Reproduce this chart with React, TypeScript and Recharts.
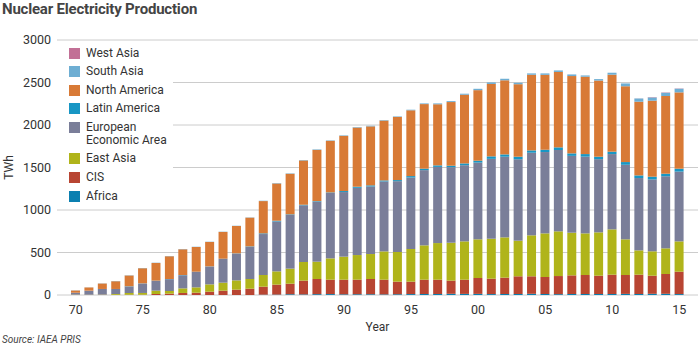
import React from 'react';
import { BarChart, Bar, XAxis, YAxis, CartesianGrid } from 'recharts';

const years = [
  1970, 1971, 1972, 1973, 1974, 1975, 1976, 1977, 1978, 1979,
  1980, 1981, 1982, 1983, 1984, 1985, 1986, 1987, 1988, 1989,
  1990, 1991, 1992, 1993, 1994, 1995, 1996, 1997, 1998, 1999,
  2000, 2001, 2002, 2003, 2004, 2005, 2006, 2007, 2008, 2009,
  2010, 2011, 2012, 2013, 2014, 2015,
];

// TWh per region
const africa = [
  0, 0, 0, 0, 0, 0, 0, 0, 0, 0,
  0, 0, 0, 0, 4, 5, 9, 7, 10, 11,
  8, 9, 9, 7, 9, 11, 12, 12, 14, 13,
  13, 11, 12, 12, 14, 12, 10, 12, 12, 12,
  12, 13, 12, 14, 14, 11,
];
const cis = [
  2, 2, 2, 2, 2, 3, 12, 16, 24, 27,
  39, 51, 63, 74, 94, 117, 124, 162, 178, 169,
  172, 171, 179, 173, 148, 146, 168, 168, 155, 167,
  187, 181, 192, 208, 206, 200, 213, 219, 223, 215,
  227, 222, 227, 213, 233, 263,
];
const eastAsia = [
  3, 2, 3, 10, 22, 21, 39, 31, 54, 63,
  86, 94, 109, 114, 137, 156, 177, 219, 204, 251,
  271, 290, 294, 333, 349, 384, 404, 431, 446, 451,
  455, 470, 474, 419, 482, 513, 526, 502, 490, 510,
  533, 420, 286, 287, 302, 357,
];
const eea = [
  22, 47, 66, 59, 76, 111, 116, 139, 154, 181,
  210, 279, 315, 379, 482, 587, 633, 667, 707, 770,
  760, 791, 795, 823, 833, 841, 885, 896, 889, 896,
  903, 940, 949, 958, 972, 957, 957, 904, 903, 861,
  886, 877, 851, 846, 848, 821,
];
const latinAmerica = [
  0, 0, 0, 0, 2, 2, 2, 2, 3, 3,
  2, 3, 3, 5, 8, 9, 6, 7, 6, 6,
  12, 13, 13, 12, 13, 17, 17, 18, 17, 21,
  22, 29, 27, 30, 27, 27, 31, 29, 30, 29,
  28, 32, 31, 32, 30, 34,
];
const northAmerica = [
  26, 38, 64, 91, 127, 178, 208, 268, 303, 291,
  287, 315, 322, 338, 380, 438, 477, 521, 602, 607,
  649, 696, 694, 704, 743, 774, 760, 719, 749, 808,
  830, 852, 872, 853, 890, 881, 887, 910, 910, 896,
  906, 892, 867, 894, 914, 898,
];
const southAsia = [
  2, 1, 2, 3, 2, 3, 3, 3, 3, 3,
  3, 3, 3, 3, 4, 5, 5, 5, 6, 5,
  6, 6, 7, 6, 6, 7, 8, 10, 11, 12,
  16, 18, 18, 17, 16, 17, 18, 19, 15, 17,
  23, 33, 38, 38, 38, 43,
];
const westAsia = [
  0, 0, 0, 0, 0, 0, 0, 0, 0, 0,
  0, 0, 0, 0, 0, 0, 0, 0, 0, 0,
  0, 0, 0, 0, 0, 0, 0, 0, 0, 0,
  0, 0, 0, 0, 0, 0, 0, 0, 0, 0,
  0, 0, 1, 4, 4, 3,
];

const yTicks = [0, 500, 1000, 1500, 2000, 2500, 3000];

// bottom of the stack first
const series = [
  { key: 'africa', name: 'Africa', color: '#0b7fb0', values: africa },
  { key: 'cis', name: 'CIS', color: '#b84532', values: cis },
  { key: 'eastAsia', name: 'East Asia', color: '#b0b41a', values: eastAsia },
  { key: 'eea', name: 'European Economic Area', color: '#7a7e99', values: eea },
  { key: 'latinAmerica', name: 'Latin America', color: '#1896c4', values: latinAmerica },
  { key: 'northAmerica', name: 'North America', color: '#d87a36', values: northAmerica },
  { key: 'southAsia', name: 'South Asia', color: '#6eaed3', values: southAsia },
  { key: 'westAsia', name: 'West Asia', color: '#c27096', values: westAsia },
];

const data = years.map((year, i) => {
  const row: Record<string, number> = { year };
  series.forEach((s) => {
    row[s.key] = s.values[i];
  });
  return row;
});

const font = 'Roboto, "Noto Sans", sans-serif';

const LegendBox = () => (
  <div
    style={{
      position: 'absolute',
      left: 57,
      top: 43,
      width: 116,
      height: 162,
      background: '#fff',
      paddingTop: 3.5,
      boxSizing: 'border-box',
      fontFamily: font,
      fontSize: 12,
      color: '#333',
    }}
  >
    {[...series].reverse().map((s) => (
      <div key={s.key} style={{ display: 'flex', alignItems: 'flex-start', paddingBottom: 5.6 }}>
        <span
          style={{
            display: 'inline-block',
            width: 11,
            height: 11,
            background: s.color,
            marginLeft: 12,
            marginTop: 1,
            flexShrink: 0,
          }}
        />
        <span style={{ marginLeft: 6, lineHeight: '13px', width: 90 }}>
          {s.key === 'eea' ? (
            <>
              European
              <br />
              Economic Area
            </>
          ) : (
            s.name
          )}
        </span>
      </div>
    ))}
  </div>
);

const App: React.FC = () => {
  return (
    <div style={{ position: 'absolute', left: 0, top: 0, width: 700, height: 350, background: '#fff', fontFamily: font }}>
      <div
        style={{
          position: 'absolute',
          left: 2,
          top: -1,
          fontSize: 15,
          fontWeight: 700,
          color: '#444',
          lineHeight: '20px',
          letterSpacing: -0.2,
        }}
      >
        Nuclear Electricity Production
      </div>
      <BarChart width={700} height={350} data={data} margin={{ top: 40, right: 2, bottom: 15, left: 0 }} barSize={9}>
        <CartesianGrid vertical={false} stroke="#cccccc" />
        <XAxis
          dataKey="year"
          interval={4}
          tickFormatter={(y: number) => String(y).slice(2)}
          tickLine={false}
          axisLine={false}
          padding={{ left: 12, right: 12 }}
          height={40}
          tick={{ fill: '#333', fontSize: 12.5, fontFamily: font }}
          tickMargin={4}
          label={{ value: 'Year', position: 'insideBottom', offset: 4, fill: '#333', fontSize: 12, fontFamily: font }}
        />
        <YAxis
          width={57}
          domain={[0, 3000]}
          ticks={yTicks}
          tickLine={false}
          axisLine={false}
          tickSize={4}
          tickMargin={2}
          tick={{ fill: '#333', fontSize: 12.5, fontFamily: font }}
          label={{
            value: 'TWh',
            angle: -90,
            position: 'insideLeft',
            offset: 9,
            fill: '#333',
            fontSize: 12,
            fontFamily: font,
            style: { textAnchor: 'middle' },
          }}
        />
        {series.map((s) => (
          <Bar key={s.key} dataKey={s.key} name={s.name} stackId="a" fill={s.color} isAnimationActive={false} />
        ))}
      </BarChart>
      <LegendBox />
      <div
        style={{
          position: 'absolute',
          left: 2,
          top: 334,
          fontSize: 10,
          fontStyle: 'italic',
          color: '#444',
        }}
      >
        Source: IAEA PRIS
      </div>
    </div>
  );
};

export default App;
